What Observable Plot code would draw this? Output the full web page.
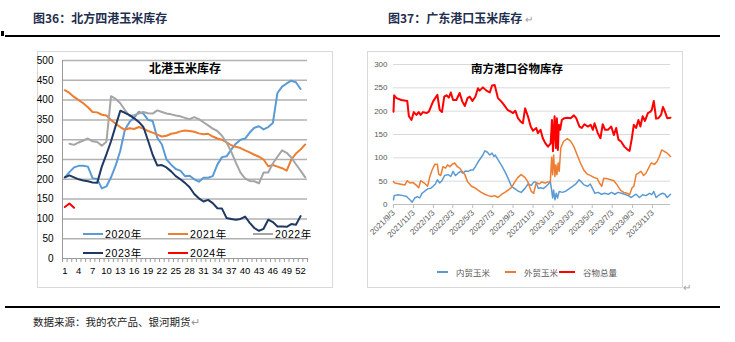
<!DOCTYPE html>
<html><head><meta charset="utf-8">
<script src="https://cdn.jsdelivr.net/npm/d3@7"></script>
<script src="https://cdn.jsdelivr.net/npm/@observablehq/plot@0.6"></script>
<style>
html,body{margin:0;padding:0;background:#fff;}
body{width:735px;height:342px;position:relative;overflow:hidden;font-family:"Noto Sans CJK SC","Noto Sans",sans-serif;}
.a{position:absolute;white-space:nowrap;}
.ttl{font-size:12px;font-weight:bold;color:#1F2F4F;line-height:14px;}
.rule{background:#000;height:1.5px;left:5px;width:715px;}
.frame{border:1px solid #D9D9D9;box-sizing:border-box;}
.ctitle{font-weight:bold;color:#000;text-align:center;line-height:14px;}
.leg{font-family:"Liberation Sans",Arial,"Noto Sans CJK SC",sans-serif;font-size:10.5px;letter-spacing:0.6px;color:#000;line-height:12px;display:flex;align-items:center;}
.leg i{display:inline-block;width:20px;height:2px;margin-right:2px;}
.legr{font-size:8.5px;color:#595959;line-height:10px;display:flex;align-items:center;}
.legr i{display:inline-block;height:2px;margin-right:8px;}
</style></head><body>

<div class="a" style="left:1px;top:31px;width:3px;height:5px;background:#000"></div>
<div class="a ttl" style="left:33px;top:11px">图36：北方四港玉米库存</div>
<div class="a ttl" style="left:388px;top:11px">图37：广东港口玉米库存 <span style="color:#999;font-weight:normal;font-size:10px">↵</span></div>
<div class="a rule" style="top:35px"></div>

<div class="a frame" style="left:37px;top:51px;width:296px;height:237px"></div>
<div class="a frame" style="left:367px;top:51px;width:316px;height:237px"></div>
<div id="left" class="a" style="left:37px;top:51px"></div>
<div id="right" class="a" style="left:367px;top:51px"></div>

<div class="a ctitle" style="left:125px;top:61px;width:120px;font-size:12px">北港玉米库存</div>
<div class="a ctitle" style="left:457px;top:61px;width:120px;font-size:11.5px">南方港口谷物库存</div>

<div id="legL"></div>
<div id="legR"></div>

<div class="a" style="left:683px;top:279px;color:#999;font-size:10px">↵</div>
<div class="a rule" style="top:306px"></div>
<div class="a" style="left:33px;top:314px;font-size:10.5px;color:#222">数据来源：我的农产品、银河期货<span style="color:#999">↵</span></div>

<script>
// ---------- Left chart data (北港玉米库存, weekly) ----------
const weeks = [1,2,3,4,5,6,7,8,9,10,11,12,13,14,15,16,17,18,19,20,21,22,23,24,25,26,27,28,29,30,31,32,33,34,35,36,37,38,39,40,41,42,43,44,45,46,47,48,49,50,51,52,53];
const weekTickLabels = [1,4,7,10,13,16,19,22,25,28,31,34,37,40,43,46,49,52];
const northTicks = [0,50,100,150,200,250,300,350,400,450,500];
const yearNames = ["2020年","2021年","2022年","2023年","2024年"];
const y2020 = [205,218,230,234,234,232,203,201,177,182,205,235,272,325,345,356,370,366,350,347,305,288,250,237,226,222,208,209,200,194,204,204,208,237,256,258,275,290,300,303,318,330,334,326,332,342,418,434,442,449,445,428];
const y2021 = [425,418,408,400,392,382,370,369,363,361,350,340,332,325,329,327,332,328,322,318,313,308,310,315,317,321,323,322,320,316,314,315,308,303,300,293,286,282,279,273,268,262,257,250,233,236,232,228,222,250,265,275,288];
const y2022 = [null,290,287,293,298,303,296,294,285,295,410,403,392,375,360,362,366,370,367,366,374,370,366,364,361,359,355,352,357,352,344,336,328,322,310,292,270,242,217,202,196,195,190,217,217,240,257,273,267,255,238,222,205];
const y2023 = [205,210,205,200,197,195,192,191,232,263,296,335,373,368,362,354,345,332,298,262,235,236,230,220,208,200,191,180,163,152,144,148,140,127,126,102,100,98,100,106,90,77,70,75,98,92,81,81,80,87,85,107];
const y2024 = [130,139,128];

// ---------- Right chart data (南方港口谷物库存) ----------
const seriesNames = ["内贸玉米","外贸玉米","谷物总量"];
const dateTicks = ["2021-09-03","2021-11-03","2022-01-03","2022-03-03","2022-05-03","2022-07-03","2022-09-03","2022-11-03","2023-01-03","2023-03-03","2023-05-03","2023-07-03","2023-09-03","2023-11-03"];
const southTicks = [0,50,100,150,200,250,300];
const dateDomain = ["2021-09-03","2023-12-28"];

const innerDates = ["2021-09-03","2021-09-05","2021-09-17","2021-10-03","2021-10-13","2021-10-23","2021-10-30","2021-11-07","2021-11-15","2021-11-22","2021-11-29","2021-12-08","2021-12-18","2021-12-26","2022-01-02","2022-01-09","2022-01-15","2022-01-22","2022-01-29","2022-02-06","2022-02-17","2022-02-25","2022-03-04","2022-03-11","2022-03-19","2022-03-27","2022-04-03","2022-04-11","2022-04-19","2022-04-27","2022-05-04","2022-05-11","2022-05-19","2022-05-27","2022-06-03","2022-06-09","2022-06-17","2022-06-24","2022-07-01","2022-07-07","2022-07-11","2022-07-19","2022-07-29","2022-08-09","2022-08-19","2022-08-29","2022-09-08","2022-09-18","2022-09-28","2022-10-09","2022-10-19","2022-10-29","2022-11-05","2022-11-12","2022-11-19","2022-11-27","2022-12-05","2022-12-13","2022-12-20","2022-12-26","2022-12-30","2023-01-02","2023-01-05","2023-01-09","2023-01-13","2023-01-17","2023-01-22","2023-02-01","2023-02-12","2023-02-22","2023-03-04","2023-03-14","2023-03-24","2023-03-31","2023-04-08","2023-04-19","2023-04-27","2023-05-04","2023-05-11","2023-05-21","2023-05-31","2023-06-10","2023-06-21","2023-07-01","2023-07-11","2023-07-21","2023-07-31","2023-08-10","2023-08-21","2023-08-30","2023-09-07","2023-09-14","2023-09-24","2023-10-04","2023-10-14","2023-10-25","2023-11-01","2023-11-07","2023-11-14","2023-11-24","2023-12-04","2023-12-11","2023-12-18","2023-12-28"];
const innerValues = [10,19,21,19,17,10,5,14,17,14,24,29,34,35,39,44,53,46,51,62,64,60,71,62,67,71,67,72,71,74,74,81,91,99,106,115,112,106,110,103,106,96,85,71,56,39,34,29,26,34,44,41,48,48,35,36,34,39,44,49,31,14,31,10,24,14,28,26,29,34,39,44,53,48,42,39,44,34,24,26,22,24,22,26,22,26,24,22,19,15,19,22,15,21,19,24,21,28,15,21,24,22,15,22];

const outerDates = ["2021-09-03","2021-09-07","2021-09-22","2021-10-08","2021-10-15","2021-10-23","2021-11-02","2021-11-12","2021-11-19","2021-11-25","2021-12-06","2021-12-16","2021-12-23","2021-12-30","2022-01-07","2022-01-15","2022-01-19","2022-01-25","2022-02-01","2022-02-09","2022-02-15","2022-02-22","2022-03-01","2022-03-09","2022-03-17","2022-03-24","2022-04-01","2022-04-09","2022-04-17","2022-04-29","2022-05-09","2022-05-19","2022-05-29","2022-06-09","2022-06-19","2022-06-29","2022-07-09","2022-07-19","2022-07-29","2022-08-09","2022-08-19","2022-08-29","2022-09-08","2022-09-18","2022-09-28","2022-10-09","2022-10-18","2022-10-29","2022-11-05","2022-11-12","2022-11-17","2022-11-22","2022-11-29","2022-12-10","2022-12-18","2022-12-26","2022-12-30","2023-01-02","2023-01-05","2023-01-09","2023-01-12","2023-01-15","2023-01-19","2023-01-22","2023-01-27","2023-02-04","2023-02-16","2023-02-26","2023-03-08","2023-03-18","2023-03-28","2023-04-07","2023-04-18","2023-04-28","2023-05-08","2023-05-18","2023-05-25","2023-06-01","2023-06-07","2023-06-18","2023-06-28","2023-07-08","2023-07-18","2023-07-28","2023-08-07","2023-08-18","2023-08-25","2023-09-01","2023-09-07","2023-09-14","2023-09-21","2023-09-29","2023-10-07","2023-10-14","2023-10-22","2023-10-30","2023-11-09","2023-11-17","2023-11-24","2023-12-01","2023-12-09","2023-12-18","2023-12-28"];
const outerValues = [49,46,44,42,51,46,47,41,36,51,46,39,60,74,86,86,65,62,81,78,85,81,86,89,81,78,71,64,49,39,36,31,26,22,19,17,19,15,21,26,31,36,48,58,64,58,49,28,24,44,46,44,48,46,48,49,101,64,106,60,85,64,89,71,121,135,141,136,124,106,89,74,65,62,58,56,46,39,56,55,53,51,42,31,26,24,21,35,39,64,67,71,62,67,78,89,86,92,103,117,114,110,103];

const totalDates = ["2021-09-03","2021-09-05","2021-09-12","2021-09-27","2021-10-15","2021-10-20","2021-10-28","2021-11-04","2021-11-12","2021-11-19","2021-11-25","2021-12-02","2021-12-13","2021-12-20","2022-01-02","2022-01-15","2022-01-22","2022-01-29","2022-02-05","2022-02-12","2022-02-19","2022-02-25","2022-03-04","2022-03-14","2022-03-24","2022-04-01","2022-04-09","2022-04-17","2022-04-24","2022-05-02","2022-05-11","2022-05-19","2022-05-24","2022-06-03","2022-06-14","2022-06-24","2022-07-01","2022-07-09","2022-07-19","2022-07-29","2022-08-06","2022-08-17","2022-08-27","2022-09-03","2022-09-10","2022-09-18","2022-09-26","2022-10-03","2022-10-10","2022-10-19","2022-10-27","2022-11-03","2022-11-13","2022-11-18","2022-11-26","2022-12-03","2022-12-11","2022-12-19","2022-12-27","2022-12-31","2023-01-03","2023-01-08","2023-01-12","2023-01-15","2023-01-18","2023-01-21","2023-01-25","2023-01-30","2023-02-07","2023-02-16","2023-02-26","2023-03-08","2023-03-15","2023-03-25","2023-04-01","2023-04-09","2023-04-20","2023-04-28","2023-05-05","2023-05-10","2023-05-20","2023-05-28","2023-06-04","2023-06-11","2023-06-20","2023-06-30","2023-07-08","2023-07-15","2023-07-22","2023-07-30","2023-08-09","2023-08-20","2023-08-25","2023-09-01","2023-09-07","2023-09-14","2023-09-21","2023-09-27","2023-10-04","2023-10-11","2023-10-20","2023-10-28","2023-11-01","2023-11-07","2023-11-14","2023-11-21","2023-11-29","2023-12-05","2023-12-11","2023-12-18","2023-12-28"];
const totalValues = [199,234,228,224,222,189,181,198,192,198,192,198,196,199,221,235,203,198,231,234,229,240,224,224,239,221,211,228,231,222,231,249,244,251,244,240,255,256,228,221,214,203,199,196,201,185,178,174,206,188,167,158,164,153,160,142,131,124,131,181,114,189,121,185,117,171,160,181,185,186,185,191,185,167,164,172,167,171,160,174,153,142,172,160,160,167,149,164,139,135,124,117,115,142,171,164,181,167,189,179,196,199,203,222,184,185,192,209,199,185,186];

// ---------- Styles ----------
const northColors = ["#5B9BD5","#ED7D31","#A5A5A5","#1F3864","#FF0000"];
const southColors = ["#5B9BD5","#ED7D31","#FF0000"];
const southWidths = [1.5,1.5,2];

// ---------- Build tables ----------
const north = [];
[y2020,y2021,y2022,y2023,y2024].forEach((arr,k)=>arr.forEach((v,i)=>{ if(v!=null) north.push({year:yearNames[k], week:weeks[i], value:v}); }));
const parse = d3.utcParse("%Y-%m-%d");
const southBySeries = [[innerDates,innerValues],[outerDates,outerValues],[totalDates,totalValues]].map(([ds,vs],k)=>ds.map((d,i)=>({series:seriesNames[k], date:parse(d), value:vs[i]})));

const weekDomain = [weeks[0]-0.5, weeks[weeks.length-1]+0.5];
const weekBoundaries = [weekDomain[0], ...weeks.map(w=>w+0.5)];

const left = Plot.plot({
  width:296, height:237, marginLeft:25, marginRight:26, marginTop:9, marginBottom:30,
  style:{fontFamily:"'Liberation Sans', Arial, sans-serif", fontSize:"10px", color:"#000", background:"transparent", overflow:"visible"},
  x:{domain:weekDomain, label:null},
  y:{domain:[northTicks[0], northTicks[northTicks.length-1]], label:null},
  color:{domain:yearNames, range:northColors},
  marks:[
    Plot.ruleY(northTicks.slice(1), {stroke:"#B2B2B2", strokeWidth:1.5}),
    Plot.ruleY([northTicks[0]], {stroke:"#9A9A9A", strokeWidth:1}),
    Plot.ruleX([weekDomain[0]], {stroke:"#9A9A9A", strokeWidth:1}),
    Plot.axisY(northTicks, {tickSize:0, tickPadding:9, label:null, fill:"#000"}),
    Plot.axisX(weekBoundaries, {tickSize:4, tickFormat:()=>"", stroke:"#9A9A9A", label:null}),
    Plot.axisX(weekTickLabels, {tickSize:0, tickPadding:9, label:null, fill:"#000", fontSize:9.5}),
    Plot.line(north, {x:"week", y:"value", z:"year", stroke:"year", strokeWidth:2})
  ]
});
document.getElementById("left").appendChild(left);

const fmt = d3.utcFormat("%Y/%-m/%-d");
const right = Plot.plot({
  width:316, height:237, marginLeft:26, marginRight:13, marginTop:13, marginBottom:84,
  style:{fontFamily:"'Liberation Sans', Arial, sans-serif", fontSize:"8px", color:"#595959", background:"transparent", overflow:"visible"},
  x:{type:"utc", domain:dateDomain.map(parse), label:null},
  y:{domain:[southTicks[0], southTicks[southTicks.length-1]], label:null},
  color:{domain:seriesNames, range:southColors},
  marks:[
    Plot.ruleY(southTicks.slice(1), {stroke:"#D9D9D9", strokeWidth:1}),
    Plot.ruleY([southTicks[0]], {stroke:"#BFBFBF", strokeWidth:1}),
    Plot.axisY(southTicks, {tickSize:0, tickPadding:6, label:null, fill:"#595959"}),
    Plot.axisX(dateTicks.map(parse), {tickSize:4, stroke:"#BFBFBF", tickRotate:-45, tickFormat:fmt, tickPadding:3, label:null, fill:"#595959"}),
    ...southBySeries.map((rows,k)=>Plot.line(rows, {x:"date", y:"value", stroke:"series", strokeWidth:southWidths[k]}))
  ]
});
document.getElementById("right").appendChild(right);

// ---------- Legends ----------
const legL = document.getElementById("legL");
const legPos = [[83,228],[168,228],[253,228],[83,247],[168,247]];
yearNames.forEach((n,k)=>{
  const d = document.createElement("div");
  d.className = "a leg";
  d.style.left = legPos[k][0]+"px"; d.style.top = legPos[k][1]+"px";
  d.innerHTML = `<i style="background:${northColors[k]}"></i>${n}`;
  legL.appendChild(d);
});
const legR = document.getElementById("legR");
const legRPos = [[437,267,11],[505,267,11],[559,267,16]];
seriesNames.forEach((n,k)=>{
  const d = document.createElement("div");
  d.className = "a legr";
  d.style.left = legRPos[k][0]+"px"; d.style.top = legRPos[k][1]+"px";
  d.innerHTML = `<i style="background:${southColors[k]};width:${legRPos[k][2]}px"></i>${n}`;
  legR.appendChild(d);
});
</script>
</body></html>
